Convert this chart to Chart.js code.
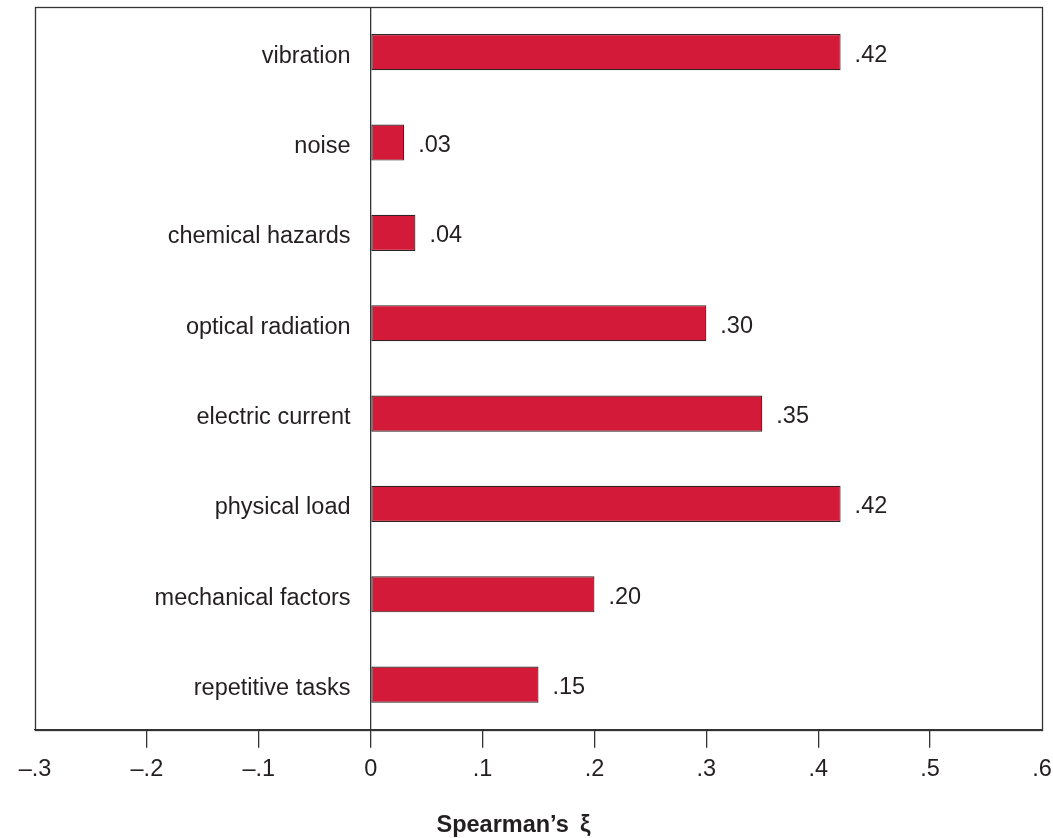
<!DOCTYPE html>
<html>
<head>
<meta charset="utf-8">
<script src="https://cdn.jsdelivr.net/npm/chart.js@4.4.1/dist/chart.umd.min.js"></script>
<style>
  html, body { margin: 0; padding: 0; background: #fff; }
  #wrap { width: 1053px; height: 838px; }
</style>
</head>
<body>
<div id="wrap"><canvas id="c" width="1053" height="838"></canvas></div>
<script>
const categories = ["vibration", "noise", "chemical hazards", "optical radiation", "electric current", "physical load", "mechanical factors", "repetitive tasks"];
const values = [0.42, 0.03, 0.04, 0.30, 0.35, 0.42, 0.20, 0.15];
const valueLabels = [".42", ".03", ".04", ".30", ".35", ".42", ".20", ".15"];
const tickValues = [-0.3, -0.2, -0.1, 0, 0.1, 0.2, 0.3, 0.4, 0.5, 0.6];
const tickLabels = ["\u2013.3", "\u2013.2", "\u2013.1", "0", ".1", ".2", ".3", ".4", ".5", ".6"];
const axisTitle = "Spearman\u2019s \u2009\u03BE";

const FONT = "'Liberation Sans', Arial, sans-serif";
const TXT = "#231f20";
const LINE = "#333333";
const FS = 23.5;

const isEnd = v => Math.abs(v - tickValues[0]) < 1e-9 || Math.abs(v - tickValues[tickValues.length - 1]) < 1e-9;

const framePlugin = {
  id: 'frame',
  afterDraw(chart) {
    const a = chart.chartArea, ctx = chart.ctx;
    ctx.save();
    ctx.strokeStyle = LINE;
    ctx.lineWidth = 1.3;
    ctx.strokeRect(Math.round(a.left) + 0.5, Math.round(a.top) + 0.5, Math.round(a.right - a.left), Math.round(a.bottom - a.top));
    ctx.font = "bold " + FS + "px " + FONT;
    ctx.fillStyle = TXT;
    ctx.textAlign = 'center';
    ctx.textBaseline = 'alphabetic';
    const cx = (a.left + a.right) / 2 - 25;
    ctx.fillText(axisTitle, cx, chart.height - 6);
    ctx.restore();
  }
};

const valueLabelPlugin = {
  id: 'valueLabels',
  afterDatasetsDraw(chart) {
    const ctx = chart.ctx;
    const meta = chart.getDatasetMeta(0);
    ctx.save();
    ctx.font = FS + "px " + FONT;
    ctx.fillStyle = TXT;
    ctx.textAlign = 'left';
    ctx.textBaseline = 'middle';
    meta.data.forEach((bar, i) => {
      ctx.fillText(valueLabels[i], bar.x + 14, bar.y + 3);
    });
    ctx.restore();
  }
};

new Chart(document.getElementById('c'), {
  type: 'bar',
  data: {
    labels: categories,
    datasets: [{
      data: values,
      backgroundColor: '#d31a38',
      borderColor: '#2e2424',
      borderWidth: 1.2,
      borderSkipped: false,
      categoryPercentage: 1.0,
      barPercentage: 0.4
    }]
  },
  options: {
    indexAxis: 'y',
    responsive: false,
    animation: false,
    devicePixelRatio: 1,
    layout: { padding: { left: 35, right: 11, top: 7, bottom: 46 } },
    plugins: { legend: { display: false }, tooltip: { enabled: false } },
    scales: {
      x: {
        type: 'linear',
        position: 'bottom',
        min: -0.3,
        max: 0.6,
        afterBuildTicks(scale) {
          scale.ticks = tickValues.map(v => ({ value: v }));
        },
        afterFit(scale) {
          scale.paddingLeft = 0; scale.paddingRight = 0;
        },
        ticks: {
          autoSkip: false,
          maxRotation: 0,
          padding: 8,
          color: TXT,
          font: { family: FONT, size: FS },
          callback(value) {
            const idx = tickValues.findIndex(t => Math.abs(t - value) < 1e-9);
            return idx >= 0 ? tickLabels[idx] : '';
          }
        },
        grid: {
          drawOnChartArea: true,
          drawTicks: true,
          tickLength: 18,
          lineWidth: 1.3,
          color(ctx) {
            const v = ctx.tick ? ctx.tick.value : null;
            return (v !== null && Math.abs(v) < 1e-9) ? LINE : 'rgba(0,0,0,0)';
          },
          tickColor(ctx) {
            const v = ctx.tick ? ctx.tick.value : null;
            return (v !== null && isEnd(v)) ? 'rgba(0,0,0,0)' : LINE;
          }
        },
        border: { display: true, color: LINE, width: 1.3 },
        title: { display: false }
      },
      y: {
        type: 'category',
        position: { x: -0.018 },
        afterFit(scale) {
          scale.paddingTop = 0; scale.paddingBottom = 0;
        },
        grid: { display: false, drawTicks: false },
        border: { display: false },
        ticks: {
          padding: 0,
          labelOffset: 4,
          color: TXT,
          font: { family: FONT, size: FS }
        }
      }
    }
  },
  plugins: [framePlugin, valueLabelPlugin]
});
</script>
</body>
</html>
